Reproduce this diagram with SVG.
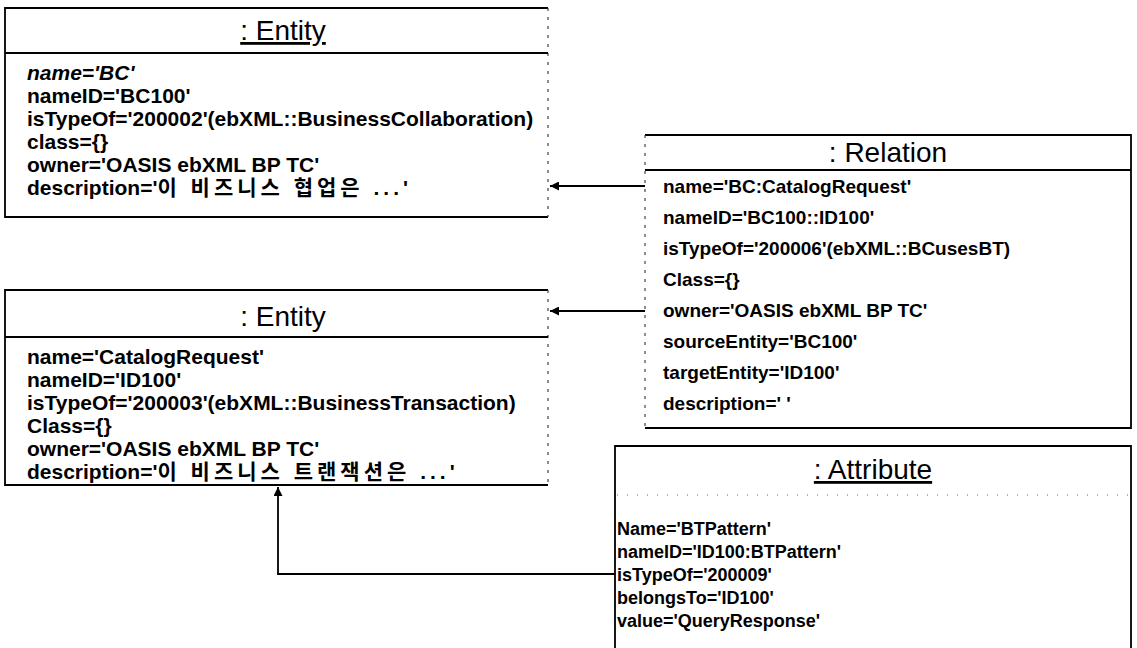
<svg xmlns="http://www.w3.org/2000/svg" width="1137" height="648" viewBox="0 0 1137 648">
  <style>
    .bg{fill:#fff}
    .edge{stroke:#000;stroke-width:1.8;fill:none}
    .faint{stroke:#444;stroke-width:1.2;stroke-dasharray:3 6;fill:none}
    .dots{stroke:#666;stroke-width:1;stroke-dasharray:1 9;fill:none}
    .t{font-family:"Liberation Sans","Noto Sans CJK KR",Arial,sans-serif;font-size:21px;font-weight:bold;fill:#000}
    .r{font-size:19px}
    .a{font-size:18px}
    .ko{letter-spacing:4px}
    .title{font-family:"Liberation Sans",Arial,sans-serif;font-size:28px;fill:#000;text-anchor:middle}
    .u{text-decoration:underline}
    .conn{stroke:#000;stroke-width:1.8;fill:none}
  </style>
  <defs>
    <marker id="head" viewBox="0 0 10 10" refX="10" refY="5" markerWidth="9" markerHeight="9" markerUnits="userSpaceOnUse" orient="auto">
      <path d="M0,0 L10,5 L0,10 z" fill="#000"/>
    </marker>
  </defs>
  <rect class="bg" width="1137" height="648"/>

  <!-- Entity: BC -->
  <g id="entity-bc">
    <rect class="bg" x="5" y="8" width="543" height="209"/>
    <path class="edge" d="M548,8 H5 V217 H548"/>
    <path class="faint" d="M548,8 V217"/>
    <line class="edge" x1="5" y1="53" x2="548" y2="53"/>
    <text class="title u" x="283" y="40">: Entity</text>
    <text class="t" x="27" y="80" font-style="italic">name='BC'</text>
    <text class="t" x="27" y="103">nameID='BC100'</text>
    <text class="t" x="27" y="126">isTypeOf='200002'(ebXML::BusinessCollaboration)</text>
    <text class="t" x="27" y="149">class={}</text>
    <text class="t" x="27" y="172">owner='OASIS ebXML BP TC'</text>
    <text class="t" x="27" y="195">description='<tspan class="ko">이 비즈니스 협업은 ...</tspan>'</text>
  </g>

  <!-- Entity: CatalogRequest -->
  <g id="entity-catalog">
    <rect class="bg" x="5" y="290" width="543" height="195"/>
    <path class="edge" d="M548,290 H5 V485 H548"/>
    <path class="faint" d="M548,290 V485"/>
    <line class="edge" x1="5" y1="337" x2="548" y2="337"/>
    <text class="title" x="283" y="326">: Entity</text>
    <text class="t" x="27" y="364">name='CatalogRequest'</text>
    <text class="t" x="27" y="387">nameID='ID100'</text>
    <text class="t" x="27" y="410">isTypeOf='200003'(ebXML::BusinessTransaction)</text>
    <text class="t" x="27" y="433">Class={}</text>
    <text class="t" x="27" y="456">owner='OASIS ebXML BP TC'</text>
    <text class="t" x="27" y="479">description='<tspan class="ko">이 비즈니스 트랜잭션은 ...</tspan>'</text>
  </g>

  <!-- Relation -->
  <g id="relation">
    <rect class="bg" x="645" y="135" width="486" height="293"/>
    <path class="edge" d="M645,135 H1131 V428 H645"/>
    <path class="faint" d="M645,135 V428"/>
    <line class="edge" x1="645" y1="170" x2="1131" y2="170"/>
    <text class="title" x="888" y="162">: Relation</text>
    <text class="t r" x="663" y="193">name='BC:CatalogRequest'</text>
    <text class="t r" x="663" y="224">nameID='BC100::ID100'</text>
    <text class="t r" x="663" y="255">isTypeOf='200006'(ebXML::BCusesBT)</text>
    <text class="t r" x="663" y="286">Class={}</text>
    <text class="t r" x="663" y="317">owner='OASIS ebXML BP TC'</text>
    <text class="t r" x="663" y="348">sourceEntity='BC100'</text>
    <text class="t r" x="663" y="379">targetEntity='ID100'</text>
    <text class="t r" x="663" y="410">description=' '</text>
  </g>

  <!-- Attribute -->
  <g id="attribute">
    <rect class="bg" x="615" y="446" width="516" height="210"/>
    <path class="edge" d="M615,656 V446 H1131 V656"/>
    <line class="dots" x1="617" y1="495" x2="1129" y2="495"/>
    <text class="title u" x="873" y="479">: Attribute</text>
    <text class="t a" x="617" y="535">Name='BTPattern'</text>
    <text class="t a" x="617" y="558">nameID='ID100:BTPattern'</text>
    <text class="t a" x="617" y="581">isTypeOf='200009'</text>
    <text class="t a" x="617" y="604">belongsTo='ID100'</text>
    <text class="t a" x="617" y="627">value='QueryResponse'</text>
  </g>

  <!-- Connectors -->
  <g id="connectors">
    <line class="conn" x1="645" y1="186" x2="550" y2="186" marker-end="url(#head)"/>
    <line class="conn" x1="645" y1="311" x2="550" y2="311" marker-end="url(#head)"/>
    <polyline class="conn" points="615,574 278,574 278,487" marker-end="url(#head)"/>
  </g>
</svg>
